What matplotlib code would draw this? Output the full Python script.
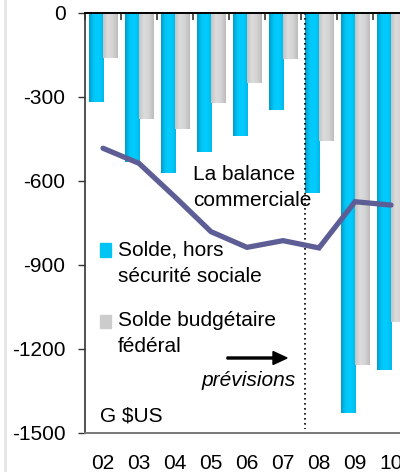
import numpy as np
import matplotlib
matplotlib.use("Agg")
import matplotlib.pyplot as plt
from matplotlib.colors import LinearSegmentedColormap
from matplotlib.patches import Rectangle, FancyArrow
from matplotlib.lines import Line2D

plt.rcParams["font.family"] = ["Liberation Sans", "DejaVu Sans"]
plt.rcParams["font.size"] = 15

# data (G $US)
years = ["02", "03", "04", "05", "06", "07", "08", "09", "10"]
solde_hors_secu = [-317, -533, -570, -495, -438, -345, -642, -1427, -1274]
solde_federal = [-160, -377, -413, -320, -249, -163, -456, -1256, -1104]
balance_commerciale = [-483, -537, -657, -781, -837, -813, -839, -674, -686]

W, H = 400, 472
fig = plt.figure(figsize=(W / 100, H / 100), dpi=100)
ax = fig.add_axes([85 / W, 39 / H, 1 - 85 / W, 420 / H])

blue_cmap = LinearSegmentedColormap.from_list(
    "b", ["#009CCC", "#00C8F8", "#00CCFF", "#00B8E8"])
gray_cmap = LinearSegmentedColormap.from_list(
    "g", ["#C4C4C4", "#DCDCDC", "#D4D4D4", "#BCBCBC"])

x = np.arange(len(years))
width = 0.4


def gradient_bars(xpos, vals, cmap):
    bars = ax.bar(xpos, vals, width, color="none", edgecolor="none")
    grad = np.linspace(0, 1, 64).reshape(1, -1)
    for b in bars:
        x0, y0 = b.get_x(), b.get_y()
        w, h = b.get_width(), b.get_height()
        im = ax.imshow(grad, cmap=cmap, aspect="auto",
                       extent=[x0, x0 + w, y0, y0 + h], zorder=2)
        im.set_clip_path(b)
    return bars


gradient_bars(x - 0.2, solde_hors_secu, blue_cmap)
gradient_bars(x + 0.2, solde_federal, gray_cmap)

ax.plot(x, balance_commerciale, color="#5E5E96", lw=3.8, zorder=4,
        solid_capstyle="round", solid_joinstyle="miter")

# forecast separator
ax.plot([5.6, 5.6], [0, -1485], color="black", lw=1.2, ls=(0, (1, 2)), zorder=3)

ax.set_yticks([0, -300, -600, -900, -1200, -1500])
ax.set_yticklabels(["0", "-300", "-600", "-900", "-1200", "-1500"])
ax.set_xticks(x)
ax.set_xticklabels(years)
ax.set_xticks(np.arange(-0.5, 9, 1), minor=True)
ax.set_xlim(-0.5, 8.25)
ax.set_ylim(-1500, 0)
ax.tick_params(axis="x", which="major", length=0, pad=15)
ax.tick_params(axis="x", which="minor", top=True, bottom=False,
               direction="in", length=5, width=1.2, color="#333333")
ax.tick_params(axis="y", which="major", direction="out", length=5,
               width=1.0, pad=9, color="#333333")
ax.spines["right"].set_visible(False)
ax.spines["top"].set_color("black")
ax.spines["top"].set_linewidth(1.4)
ax.spines["left"].set_color("#333333")
ax.spines["left"].set_linewidth(1.2)
ax.spines["bottom"].set_color("#777777")
ax.spines["bottom"].set_linewidth(1.4)


def px(xp, yp):
    return xp / W, 1 - yp / H


# annotations
fig.text(*px(193, 175), "La balance", va="center", ha="left")
fig.text(*px(193, 200), "commerciale", va="center", ha="left")

fig.patches.append(Rectangle(px(100, 257), 11 / W, 14 / H,
                             transform=fig.transFigure, color="#00C4F4"))
fig.text(*px(118, 250), "Solde, hors", va="center", ha="left")
fig.text(*px(118, 276), "sécurité sociale", va="center", ha="left")

fig.patches.append(Rectangle(px(100, 328), 11 / W, 13 / H,
                             transform=fig.transFigure, color="#CCCCCC"))
fig.text(*px(118, 321), "Solde budgétaire", va="center", ha="left")
fig.text(*px(118, 346), "fédéral", va="center", ha="left")

ax_x0, ax_y0 = px(227, 358)
fig.patches.append(FancyArrow(ax_x0, ax_y0, 60 / W, 0, width=2 / H,
                              head_width=13 / H, head_length=14 / W,
                              length_includes_head=True,
                              transform=fig.transFigure, color="black"))
fig.text(*px(202, 381), "prévisions", va="center", ha="left", style="italic")
fig.text(*px(100, 416), "G $US", va="center", ha="left")

# light frame line at the left edge
fig.lines.append(Line2D([5 / W, 5 / W], [0, 1], transform=fig.transFigure,
                        color="#E6E6E6", lw=2))

fig.savefig("out.png", dpi=100)
